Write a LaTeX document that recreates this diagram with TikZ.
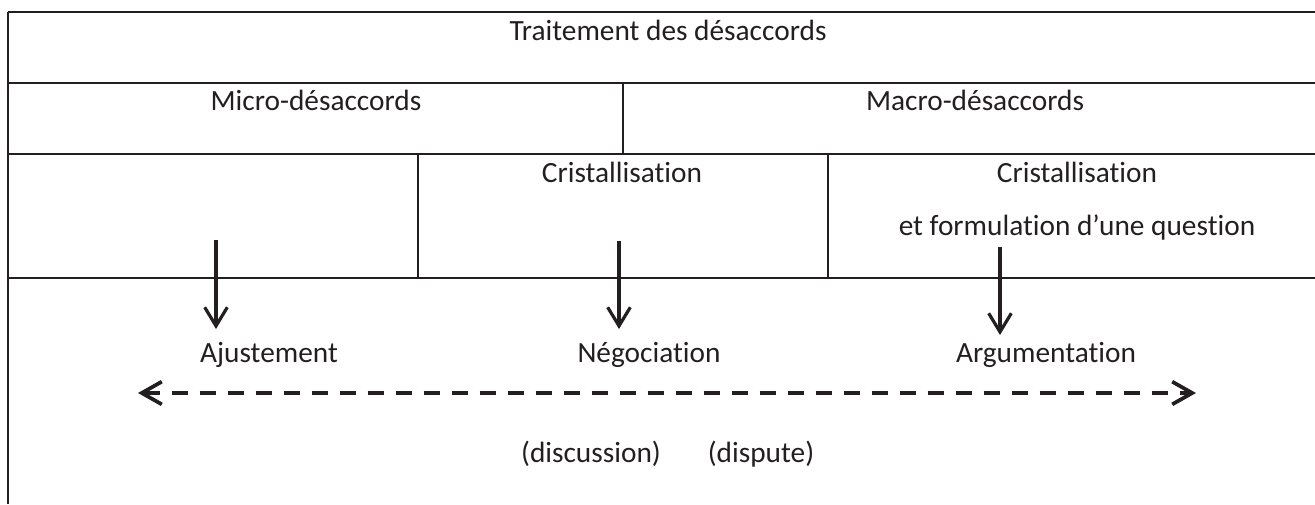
\documentclass[tikz,border=0pt]{standalone}
\usepackage{fontspec}
\setmainfont{Carlito}[Ligatures={NoCommon,NoRequired,NoContextual}]
\usetikzlibrary{arrows.meta}
\definecolor{ink}{HTML}{231F20}
\tikzset{
  rule/.style={draw=ink, line width=1.6pt},
  edge/.style={draw=ink, line width=2pt},
  divider/.style={draw=ink, line width=1pt},
  lbl/.style={anchor=base, inner sep=0pt, text=ink, font=\fontsize{22}{26}\selectfont},
  downarrow/.style={draw=ink, line width=2.6pt, -{Straight Barb[length=14pt,width=17pt,line width=2.4pt]}},
  scalearrow/.style={draw=ink, line width=2.9pt, dash pattern=on 12pt off 9pt,
    {Straight Barb[length=15pt,width=17pt,line width=2.8pt]}-{Straight Barb[length=15pt,width=17pt,line width=2.8pt]}}
}
\begin{document}
\begin{tikzpicture}[x=0.75pt, y=-0.75pt]
\useasboundingbox (0,0) rectangle (1315,504);
% table rules
\draw[rule] (1315,12) -- (8,12);
\draw[edge] (8,11.5) -- (8,504);
\draw[rule] (8,83) -- (1315,83);
\draw[rule] (8,154) -- (1315,154);
\draw[rule] (8,278) -- (1315,278);
\draw[divider] (623,83) -- (623,154);
\draw[divider] (418,154) -- (418,278);
\draw[divider] (828,154) -- (828,278);
% labels
\node[lbl] (trait) at (668,40.5) {Traitement des désaccords};
\node[lbl] (micro) at (316,110) {Micro-désaccords};
\node[lbl] (macro) at (975,110) {Macro-désaccords};
\node[lbl] (cris1) at (622,182) {Cristallisation};
\node[lbl] (cris2) at (1077,182) {Cristallisation};
\node[lbl] (form) at (1077,235) {et formulation d’une question};
\node[lbl] (ajust) at (269,362) {Ajustement};
\node[lbl] (nego) at (649,362) {Négociation};
\node[lbl] (argu) at (1046,362) {Argumentation};
\node[lbl] (disc) at (591,462) {(discussion)};
\node[lbl] (disp) at (761,462) {(dispute)};
% arrows
\coordinate (a1s) at (216,240);
\coordinate (a1e) at (216,329);
\coordinate (a2s) at (619,241);
\coordinate (a2e) at (619,329);
\coordinate (a3s) at (1000,247);
\coordinate (a3e) at (1000,335);
\draw[downarrow] (a1s) -- (a1e);
\draw[downarrow] (a2s) -- (a2e);
\draw[downarrow] (a3s) -- (a3e);
\coordinate (sl) at (138,393);
\coordinate (sr) at (1196,393);
\draw[scalearrow] (sl) -- (sr);
\end{tikzpicture}
\end{document}
